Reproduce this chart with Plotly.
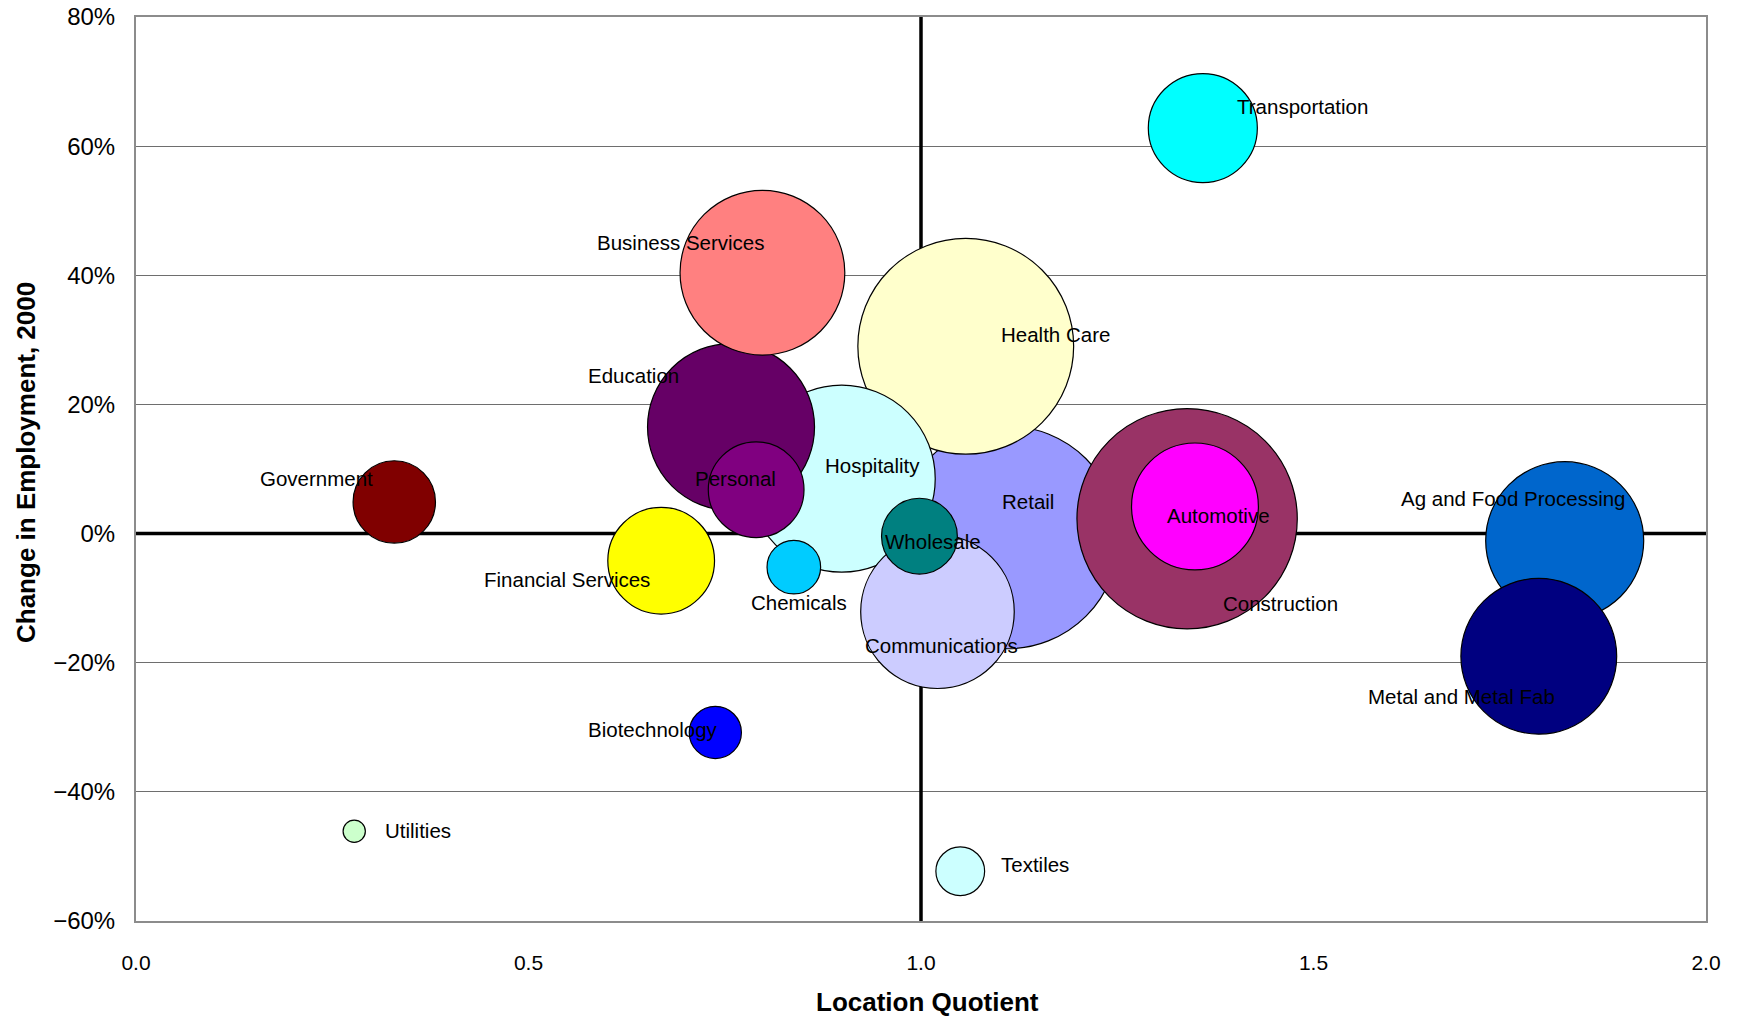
import plotly.graph_objects as go

# ---- data ----
industries = ["Retail", "Construction", "Health Care", "Hospitality", "Education",
              "Business Services", "Ag and Food Processing", "Metal and Metal Fab",
              "Communications", "Automotive", "Transportation", "Financial Services",
              "Personal", "Government", "Wholesale", "Chemicals", "Biotechnology",
              "Textiles", "Utilities"]
location_quotient = [1.110, 1.339, 1.057, 0.899, 0.758, 0.798, 1.820, 1.787,
                     1.021, 1.349, 1.359, 0.669, 0.790, 0.329, 0.998, 0.838, 0.738,
                     1.050, 0.278]
employment_change = [-0.006, 0.023, 0.290, 0.085, 0.165, 0.404, -0.011, -0.190,
                     -0.121, 0.042, 0.628, -0.042, 0.068, 0.049, -0.004, -0.052, -0.308,
                     -0.523, -0.461]
employment_size = [100.0, 98.0, 94.0, 70.6, 56.3, 54.8, 50.4, 49.0,
                   47.6, 32.5, 24.0, 23.0, 18.5, 13.7, 11.6, 5.8, 5.5,
                   4.8, 1.0]
bubble_colors = ["#9999FF", "#993366", "#FFFFCC", "#CCFFFF", "#660066",
                 "#FF8080", "#0066CC", "#000080", "#CCCCFF", "#FF00FF", "#00FFFF",
                 "#FFFF00", "#800080", "#800000", "#008080", "#00CCFF", "#0000FF",
                 "#CCFFFF", "#CCFFCC"]
# label offsets (pixels from bubble centre to left edge / vertical centre of label)
label_dx = [-7, 30, 30, -17, -130, -150, -149, -155, -67, -27, 29, -161, -57, -122,
            -33, -40, -116, 35, 26]
label_dy = [-32, 76, -11, -12, -46, -27, -38, 36, 30, 8, -19, 17, -10, -21,
            5, 32, -3, -6, -1]

SCALE = 1745 / 1568

fig = go.Figure()

# reference lines (above gridlines, behind bubbles)
fig.add_shape(type="line", xref="x", yref="y", x0=1.0, x1=1.0, y0=-0.6, y1=0.8,
              line=dict(color="black", width=3.5), layer="between")
fig.add_shape(type="line", xref="x", yref="y", x0=0, x1=2.0, y0=0, y1=0,
              line=dict(color="black", width=3.5), layer="between")

max_d = 2 * SCALE * 100
sizeref = 2 * max(employment_size) / (max_d ** 2)

fig.add_trace(go.Scatter(
    x=location_quotient, y=employment_change, mode="markers",
    text=industries,
    marker=dict(size=employment_size, sizemode="area", sizeref=sizeref,
                color=bubble_colors, opacity=1,
                line=dict(color="black", width=1.2)),
    hovertemplate="%{text}<br>LQ %{x:.2f}<br>%{y:.0%}<extra></extra>",
    showlegend=False,
))

annotations = []
for name, xv, yv, dx, dy in zip(industries, location_quotient, employment_change,
                                label_dx, label_dy):
    annotations.append(dict(
        x=xv, y=yv, xref="x", yref="y", text=name, showarrow=False,
        xanchor="left", yanchor="middle",
        xshift=dx * SCALE, yshift=-dy * SCALE,
        font=dict(family="Liberation Sans, Arial, sans-serif", size=20.5, color="black"),
    ))

annotations.append(dict(
    x=0.5, y=0, xref="paper", yref="paper", text="<b>Location Quotient</b>",
    showarrow=False, xanchor="center", yanchor="middle", yshift=-81, xshift=6,
    font=dict(family="Liberation Sans, Arial, sans-serif", size=26, color="black")))
annotations.append(dict(
    x=0, y=0.5, xref="paper", yref="paper", text="<b>Change in Employment, 2000</b>",
    showarrow=False, xanchor="center", yanchor="middle", xshift=-110, yshift=6,
    textangle=-90,
    font=dict(family="Liberation Sans, Arial, sans-serif", size=26, color="black")))

fig.update_layout(
    width=1745, height=1016,
    margin=dict(l=136, r=39, t=17, b=95),
    paper_bgcolor="white", plot_bgcolor="white",
    annotations=annotations,
    font=dict(family="Liberation Sans, Arial, sans-serif", color="black"),
)
fig.update_xaxes(range=[0, 2.0], dtick=0.5, tickformat=".1f",
                 showgrid=False, zeroline=False, automargin=False,
                 showline=True, linecolor="#8c8c8c", linewidth=2, mirror=True,
                 ticks="", ticklabelstandoff=22,
                 tickfont=dict(size=21, color="black"))
fig.update_yaxes(range=[-0.6, 0.8], dtick=0.2, tickformat=".0%",
                 showgrid=True, gridcolor="#6e6e6e", gridwidth=1,
                 zeroline=False, automargin=False,
                 showline=True, linecolor="#8c8c8c", linewidth=2, mirror=True,
                 ticks="", ticklabelstandoff=14,
                 tickfont=dict(size=24, color="black"))

fig.write_html("out.html")
